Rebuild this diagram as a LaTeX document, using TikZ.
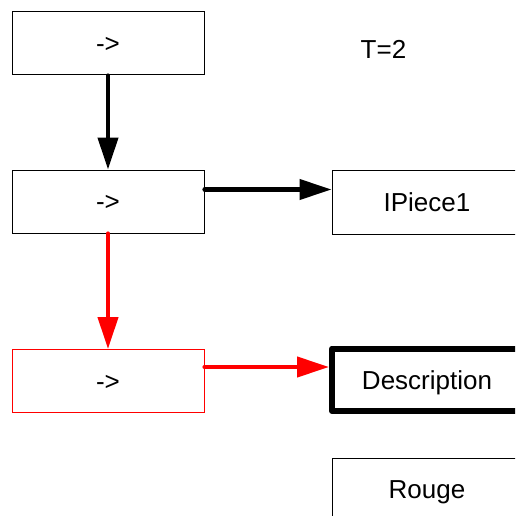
\documentclass[tikz,border=0pt]{standalone}
\usepackage{fontspec}
\setmainfont{Liberation Sans}
\usetikzlibrary{arrows.meta}
\tikzset{
  box/.style={draw=black, line width=1pt, minimum width=192pt, minimum height=63pt,
    inner sep=0pt, text height=18.5pt, text depth=0pt, font=\fontsize{26}{30}\selectfont},
  redbox/.style={box, draw=red},
  thickbox/.style={box, line width=6pt, line join=round},
  lbl/.style={inner sep=0pt, text height=18.5pt, text depth=0pt, font=\fontsize{26}{30}\selectfont},
  conn/.style={line width=4.2pt, line cap=round, -{Triangle[length=32pt,width=20pt]}},
  redconn/.style={conn, draw=red, fill=red}
}
\begin{document}
\begin{tikzpicture}[x=1pt,y=-1pt]
\clip (0,0) rectangle (515,516);
\fill[white] (0,0) rectangle (515,516);
\node[box] (b1) at (108,43.5) {->};
\node[box] (b2) at (108,201.5) {->};
\node[redbox] (b3) at (108,381) {->};
\node[box, minimum width=190pt, minimum height=64pt] (ip) at (427,202) {IPiece1};
\node[thickbox, minimum width=190pt, minimum height=62.5pt] (desc) at (427,379.75) {Description};
\node[box, minimum width=190pt] (rouge) at (427,489.5) {Rouge};
\node[lbl] (t) at (383.5,49.7) {T=2};
\draw[conn] (b1.south) -- (b2.north);
\draw[conn] ([yshift=12pt]b2.east) -- ([yshift=12pt]b2.east -| ip.west);
\draw[redconn] (b2.south) -- (b3.north);
\draw[redconn] ([yshift=14pt]b3.east) -- ([yshift=14pt]b3.east -| desc.west);
\end{tikzpicture}
\end{document}
